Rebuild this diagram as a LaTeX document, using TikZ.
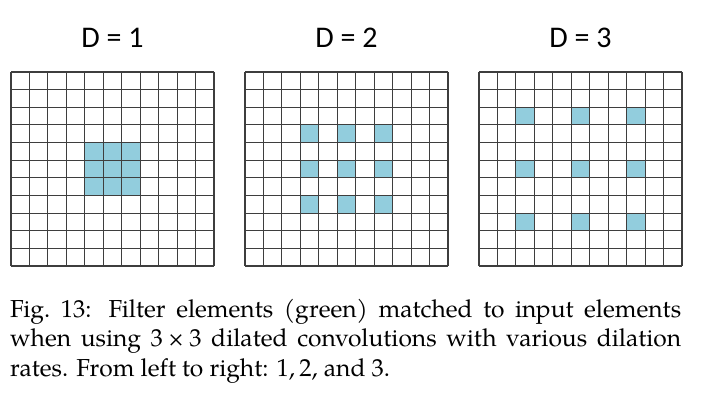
\documentclass[tikz,border=0pt]{standalone}
\usepackage{fontspec}
\newfontfamily\titlefont{Carlito}
\newfontfamily\capfont{texgyrepagella-regular.otf}
\usetikzlibrary{positioning}

\definecolor{filtercol}{RGB}{146,205,221}
\definecolor{gridcol}{RGB}{62,62,62}

\tikzset{
  rate/.style={font=\titlefont\fontsize{30}{36}\selectfont, anchor=base, inner sep=0pt},
  filtercell/.style={fill=filtercol},
  gridline/.style={draw=gridcol, line width=1.1pt},
  caption/.style={font=\capfont\fontsize{24.6}{29.5}\selectfont, text width=671pt,
    align=justify, anchor=north west, inner sep=0pt},
}

\begin{document}
\begin{tikzpicture}[x=1pt,y=-1pt]
		\useasboundingbox (0,0) rectangle (711,411);
		
		\foreach \d/\xo in {1/11,2/245,3/479}{
			\node[rate] (d\d) at (\xo+101.5,47.7) {D = \d};
			\begin{scope}[shift={(\xo,72)},x=18.45pt,y=-17.64pt]
				\foreach \i in {-1,0,1}
					\foreach \j in {-1,0,1}
						\fill[filtercell] (5+\d*\i,5+\d*\j) rectangle ++(1,1);
				\foreach \k in {0,...,11}{
					\draw[gridline] (\k,0) -- (\k,11);
					\draw[gridline] (0,\k) -- (11,\k);
				}
			\end{scope}
		}
		
		\node[caption] (cap) at (10,298.5) {\hyphenpenalty=10000
			Fig.~13: Filter elements (green) matched to input elements when using
			3\kern.22em×\kern.22em3 dilated convolutions with various dilation rates.
			From left to right: 1,\kern.17em2, and 3.};
\end{tikzpicture}
\end{document}
